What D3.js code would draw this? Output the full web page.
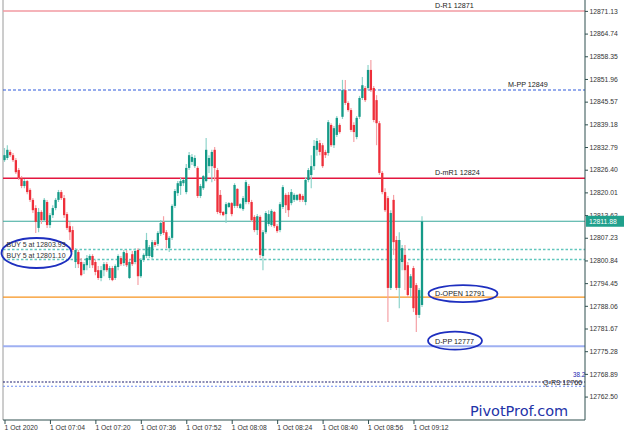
<!DOCTYPE html>
<html><head><meta charset="utf-8">
<script src="https://cdn.jsdelivr.net/npm/d3@7"></script>
<style>html,body{margin:0;padding:0;background:#fff;}svg{display:block;}</style>
</head><body><svg id="c" width="625" height="435"></svg>
<script>
const opens = [12829.1,12829.7,12831.4,12830.5,12829.1,12826.3,12824.1,12821.8,12823.2,12820.7,
12817.9,12815.6,12810.0,12814.5,12812.2,12817.3,12810.8,12813.6,12815.6,12817.9,
12820.1,12818.4,12813.9,12810.5,12809.4,12800.4,12803.2,12800.4,12798.1,12799.5,
12801.0,12802.1,12800.4,12798.1,12795.9,12798.1,12799.8,12795.9,12798.7,12795.9,
12799.0,12801.5,12800.1,12802.9,12795.9,12802.6,12800.4,12803.8,12796.4,12801.0,
12802.1,12802.1,12801.8,12806.0,12805.5,12808.3,12811.7,12808.8,12804.3,12807.2,
12816.2,12819.8,12821.8,12822.6,12820.1,12826.9,12828.6,12827.4,12826.9,12819.0,
12821.2,12823.2,12827.4,12827.4,12832.0,12826.3,12819.3,12814.5,12813.9,12815.9,
12817.0,12816.2,12821.0,12815.6,12815.3,12817.3,12821.8,12817.3,12813.1,12809.4,
12813.1,12802.1,12808.8,12811.1,12810.8,12814.5,12810.5,12809.4,12815.9,12819.3,
12819.3,12817.0,12817.9,12817.9,12819.5,12819.0,12817.3,12823.5,12824.9,12827.4,
12832.0,12833.9,12833.3,12831.4,12831.1,12839.0,12833.3,12836.2,12839.0,12841.3,
12848.8,12845.2,12843.2,12839.0,12835.6,12841.3,12846.6,12849.4,12849.4,12854.5,
12849.4,12846.0,12839.5,12825.5,12820.1,12818.4,12793.1,12817.9,12806.6,12793.1,
12800.4,12802.4,12799.5,12793.1,12798.7,12793.9,12785.5,12788.3];
const highs = [12832.5,12833.3,12832.0,12831.1,12829.7,12826.9,12824.6,12823.8,12823.5,12821.2,
12818.4,12816.4,12815.6,12815.0,12818.4,12817.9,12814.2,12816.4,12818.4,12820.7,
12820.7,12819.3,12814.5,12811.7,12810.5,12804.3,12803.8,12801.5,12800.4,12802.4,
12802.6,12802.6,12801.0,12799.3,12799.3,12800.4,12800.4,12799.3,12799.3,12799.8,
12802.6,12802.1,12803.8,12803.8,12801.0,12803.5,12804.3,12804.3,12801.5,12802.9,
12808.6,12805.2,12806.6,12806.6,12809.1,12812.2,12813.3,12809.4,12807.7,12816.7,
12821.0,12823.2,12824.1,12823.8,12828.0,12831.4,12830.8,12830.5,12827.4,12822.4,
12824.9,12835.3,12830.5,12832.0,12832.8,12826.9,12820.7,12814.8,12817.3,12817.3,
12817.3,12822.6,12821.2,12817.0,12819.0,12823.5,12822.4,12817.9,12813.6,12813.9,
12813.6,12809.4,12814.8,12815.0,12815.3,12814.8,12811.1,12817.3,12822.1,12819.8,
12820.1,12821.0,12819.8,12819.5,12819.8,12819.5,12824.3,12826.9,12830.5,12834.8,
12835.3,12834.8,12833.9,12832.0,12840.4,12839.5,12838.7,12841.5,12839.5,12851.7,
12851.7,12845.7,12843.8,12839.8,12841.5,12847.2,12852.5,12850.0,12855.9,12857.3,
12850.0,12847.4,12840.1,12826.0,12821.2,12819.0,12815.0,12819.3,12807.7,12808.8,
12805.2,12805.2,12800.4,12797.0,12799.3,12794.5,12793.1,12813.3];
const lows = [12828.6,12829.1,12830.0,12828.6,12825.2,12823.5,12821.2,12821.2,12819.5,12817.3,
12814.2,12808.6,12808.8,12811.1,12811.7,12810.0,12810.0,12812.8,12815.0,12817.3,
12817.9,12812.8,12809.4,12806.6,12803.2,12798.7,12798.7,12796.4,12797.0,12798.1,
12798.7,12798.7,12796.7,12795.3,12795.0,12796.4,12797.6,12795.3,12795.0,12795.3,
12798.1,12799.3,12799.3,12799.0,12795.6,12799.3,12799.8,12793.9,12795.9,12800.4,
12801.5,12801.5,12801.2,12804.6,12804.9,12807.7,12808.0,12804.3,12803.2,12806.6,
12815.6,12819.0,12819.3,12821.8,12819.5,12826.3,12827.7,12826.9,12818.4,12818.4,
12820.7,12822.9,12825.5,12822.9,12823.2,12813.9,12813.6,12813.3,12811.4,12815.6,
12813.3,12815.6,12815.6,12815.3,12814.8,12816.7,12816.7,12811.7,12808.8,12808.0,
12801.5,12798.1,12808.3,12810.5,12810.3,12810.0,12808.6,12808.8,12815.3,12814.2,
12813.1,12816.4,12817.3,12817.6,12817.3,12817.3,12816.4,12822.9,12821.2,12826.3,
12830.3,12830.5,12826.9,12829.7,12830.3,12832.8,12832.5,12835.6,12836.5,12840.7,
12844.6,12842.7,12837.0,12834.2,12835.0,12840.7,12846.0,12845.5,12848.8,12848.3,
12839.8,12833.3,12824.9,12819.5,12814.5,12783.5,12792.5,12802.4,12792.5,12787.4,
12798.1,12792.5,12790.5,12790.5,12786.3,12780.7,12784.6,12787.7];
const closes = [12830.5,12832.0,12830.5,12829.1,12825.7,12824.1,12821.8,12823.2,12820.1,12817.9,
12815.0,12811.7,12814.5,12812.2,12817.9,12810.8,12813.6,12815.6,12817.9,12820.1,
12818.4,12813.6,12810.0,12808.8,12803.8,12803.8,12799.8,12796.7,12799.8,12801.5,
12802.1,12799.5,12797.6,12795.9,12798.1,12799.8,12798.1,12798.7,12795.3,12799.3,
12802.1,12799.8,12803.2,12799.5,12800.4,12799.8,12803.5,12796.4,12801.0,12802.4,
12806.6,12804.6,12806.0,12805.2,12808.6,12811.4,12808.6,12806.6,12807.2,12816.2,
12820.4,12822.6,12823.2,12823.5,12826.9,12830.5,12830.0,12829.7,12819.0,12821.8,
12824.6,12832.0,12829.7,12831.4,12826.9,12814.5,12814.2,12813.6,12816.7,12817.0,
12813.9,12822.1,12816.2,12816.7,12818.4,12822.9,12817.3,12812.2,12809.4,12813.3,
12802.4,12808.8,12814.2,12813.9,12814.8,12810.5,12809.1,12816.7,12821.5,12816.4,
12815.0,12820.1,12819.3,12819.3,12817.9,12817.9,12823.5,12826.3,12827.4,12833.1,
12834.5,12831.4,12827.4,12830.5,12839.8,12833.3,12838.1,12841.0,12837.0,12848.8,
12845.2,12843.2,12837.6,12837.0,12841.0,12846.6,12850.2,12846.0,12854.5,12848.8,
12840.4,12839.5,12825.5,12820.1,12815.0,12793.1,12814.2,12806.0,12793.1,12806.6,
12804.3,12798.1,12791.1,12796.4,12787.4,12785.5,12792.5,12811.88];

const priceTicks = [12871.13,12864.74,12858.35,12851.96,12845.57,12839.18,12832.79,12826.40,12820.01,12813.62,12807.23,12800.84,12794.45,12788.06,12781.67,12775.28,12768.89,12762.50];
const timeTickIndex = [0,16,32,48,64,80,96,112,128,144];
const timeTickLabels = ["1 Oct 2020","1 Oct 07:04","1 Oct 07:20","1 Oct 07:36","1 Oct 07:52","1 Oct 08:08","1 Oct 08:24","1 Oct 08:40","1 Oct 08:56","1 Oct 09:12"];

const levelNames = ["D-R1 12871","M-PP 12849","D-mR1 12824","D-OPEN 12791","D-PP 12777","Q-R3 12766"];
const levelValues = [12871.1,12848.85,12824.0,12790.5,12776.7,12766.6];
const fibLabel = "38.2";
const fibValue = 12765.4;
const buyLabels = ["BUY 5 at 12803.93","BUY 5 at 12801.10"];
const buyValues = [12803.93,12801.10];
const lastPrice = 12811.88;
const watermark = "PivotProf.com";

// ---------- drawing ----------
const svg = d3.select("#c");
const plotL = 3, plotR = 585, plotT = 0, plotB = 420;
const FONT = "'Liberation Sans', Arial, sans-serif";

const x = d3.scaleLinear().domain([0, opens.length - 1]).range([4.5, 422]);
const y = d3.scaleLinear().domain([12755.9, 12874.2]).range([plotB, plotT]);

const levelStyle = [
  {stroke:"#f29aa2", w:1.4, dash:null, lx:435},
  {stroke:"#2f5bdb", w:1.2, dash:"3,2", lx:508},
  {stroke:"#e3163f", w:1.4, dash:null, lx:435},
  {stroke:"#f7931e", w:1.4, dash:null, lx:435},
  {stroke:"#9fb0f2", w:2, dash:null, lx:435},
  {stroke:"#1c1c6e", w:1.1, dash:"2,1.5", lx:543}
];

const g = svg.append("g");

g.append("line").attr("x1",plotL).attr("x2",plotL).attr("y1",0).attr("y2",plotB)
  .attr("stroke","#9a9a9a").attr("stroke-width",1);

levelValues.forEach((v,i)=>{
  const s = levelStyle[i];
  g.append("line").attr("x1",plotL).attr("x2",plotR).attr("y1",y(v)).attr("y2",y(v))
   .attr("stroke",s.stroke).attr("stroke-width",s.w).attr("stroke-dasharray",s.dash);
});
g.append("line").attr("x1",plotL).attr("x2",plotR).attr("y1",y(fibValue)).attr("y2",y(fibValue))
  .attr("stroke","#6d8cf0").attr("stroke-width",1.1).attr("stroke-dasharray","2,2");

buyValues.forEach(v=>{
  g.append("line").attr("x1",plotL).attr("x2",plotR).attr("y1",y(v)).attr("y2",y(v))
   .attr("stroke","#62c6bd").attr("stroke-width",1.4).attr("stroke-dasharray","2.5,2");
});
g.append("line").attr("x1",plotL).attr("x2",plotR).attr("y1",y(lastPrice)).attr("y2",y(lastPrice))
  .attr("stroke","#3aa99b").attr("stroke-width",1.1);

const idx = d3.range(opens.length);
const bull = i => closes[i] >= opens[i];
g.append("g").selectAll("line").data(idx).join("line")
  .attr("x1",i=>x(i)).attr("x2",i=>x(i))
  .attr("y1",i=>y(highs[i])).attr("y2",i=>y(lows[i]))
  .attr("stroke",i=>bull(i)?"#8fd4cb":"#f5a1a6").attr("stroke-width",1.2);
g.append("g").selectAll("rect").data(idx).join("rect")
  .attr("x",i=>x(i)-1.15).attr("width",2.3)
  .attr("y",i=>y(Math.max(opens[i],closes[i])))
  .attr("height",i=>Math.max(1,Math.abs(y(opens[i])-y(closes[i]))))
  .attr("fill",i=>bull(i)?"#159a88":"#ee2f3a");

const lblFont = 7.2;
levelValues.forEach((v,i)=>{
  const s = levelStyle[i];
  if (i===3 || i===4) return;
  g.append("text").attr("x",s.lx).attr("y",i===5 ? y(v)+3.2 : y(v)-3)
   .attr("font-family",FONT).attr("font-size",lblFont).attr("fill","#222")
   .text(levelNames[i]);
});
g.append("text").attr("x",573).attr("y",y(fibValue)-9)
  .attr("font-family",FONT).attr("font-size",6.3).attr("fill","#1c1cb0").text(fibLabel);

const ellStroke = "#1e2fbf";
g.append("ellipse").attr("cx",463).attr("cy",y(levelValues[3])-3.5).attr("rx",34.5).attr("ry",8.5)
  .attr("fill","none").attr("stroke",ellStroke).attr("stroke-width",1.8);
g.append("text").attr("x",435).attr("y",y(levelValues[3])-1)
  .attr("font-family",FONT).attr("font-size",lblFont).attr("fill","#222").text(levelNames[3]);
g.append("ellipse").attr("cx",455).attr("cy",y(levelValues[4])-5.5).attr("rx",27).attr("ry",9)
  .attr("fill","none").attr("stroke",ellStroke).attr("stroke-width",1.8);
g.append("text").attr("x",435).attr("y",y(levelValues[4])-2.5)
  .attr("font-family",FONT).attr("font-size",lblFont).attr("fill","#222").text(levelNames[4]);

g.append("ellipse").attr("cx",36.5).attr("cy",(y(buyValues[0])+y(buyValues[1]))/2 - 1.5).attr("rx",35).attr("ry",15)
  .attr("fill","none").attr("stroke",ellStroke).attr("stroke-width",1.8);
buyLabels.forEach((t,i)=>{
  g.append("text").attr("x",6.5).attr("y",y(buyValues[i])-2)
   .attr("font-family",FONT).attr("font-size",7).attr("fill","#333").text(t);
});

const yAxis = d3.axisRight(y).tickValues(priceTicks).tickSize(3).tickPadding(1.5)
  .tickFormat(d3.format(".2f"));
const ya = svg.append("g").attr("transform",`translate(${plotR},0)`).call(yAxis);
ya.select(".domain").attr("stroke","#2f4f4f").attr("d",`M0,0V${plotB}`);
ya.selectAll(".tick line").attr("stroke","#2f4f4f");
ya.selectAll(".tick text").attr("font-family",FONT).attr("font-size",6.8).attr("fill","#333");

const lpY = y(lastPrice);
svg.append("rect").attr("x",plotR+1).attr("y",lpY-5.5).attr("width",38).attr("height",11).attr("fill","#20a08c");
svg.append("text").attr("x",plotR+4).attr("y",lpY+2.5).attr("font-family",FONT).attr("font-size",6.8)
  .attr("fill","#fff").text(d3.format(".2f")(lastPrice));

const xAxis = d3.axisBottom(x).tickValues(timeTickIndex).tickSize(4).tickPadding(1)
  .tickFormat((d,i)=>timeTickLabels[i]);
const xa = svg.append("g").attr("transform",`translate(0,${plotB})`).call(xAxis);
xa.select(".domain").attr("stroke","#2f4f4f").attr("d",`M${plotL},0H${plotR}`);
xa.selectAll(".tick line").attr("stroke","#2f4f4f");
xa.selectAll(".tick text").attr("font-family",FONT).attr("font-size",6.8).attr("fill","#333")
  .attr("text-anchor","start").attr("dx",-0.5);

svg.append("text").attr("x",470).attr("y",416).attr("font-family","'DejaVu Sans', Verdana, sans-serif")
  .attr("font-size",14.5).attr("fill","#2333a8").text(watermark);
</script>
</body></html>
